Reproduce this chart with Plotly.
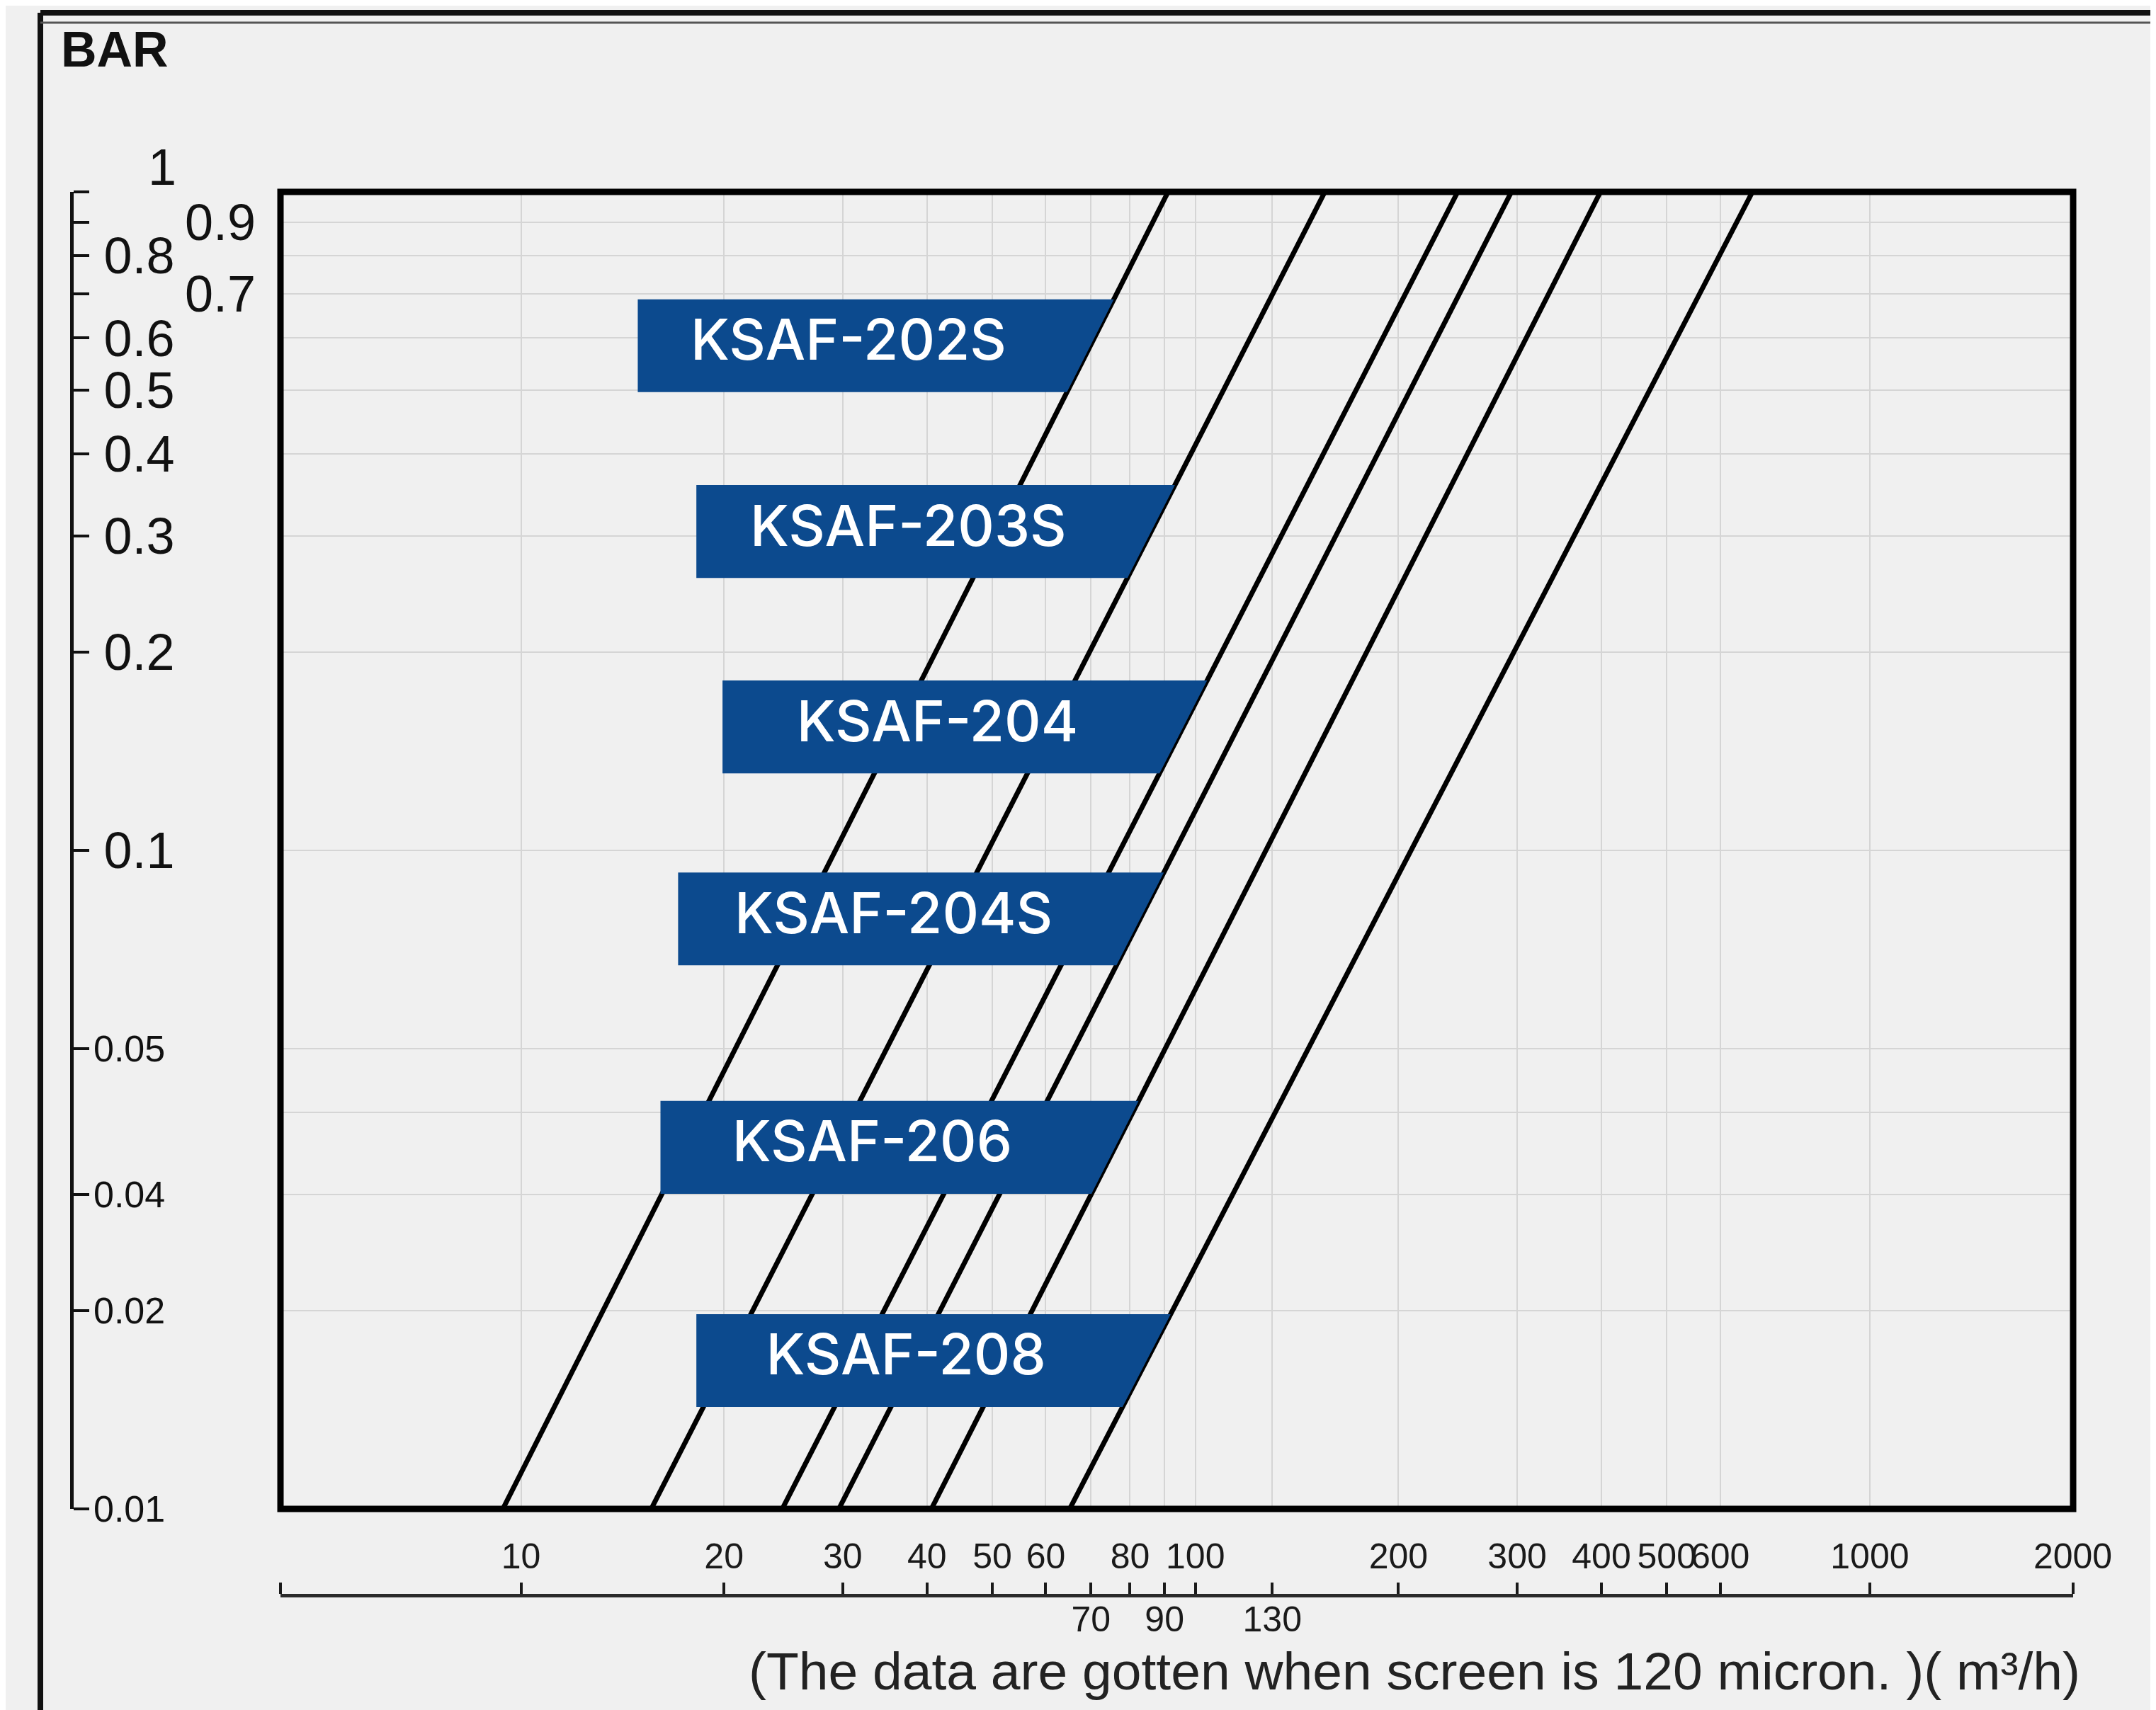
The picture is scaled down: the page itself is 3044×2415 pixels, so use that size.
import numpy as np
import plotly.graph_objects as go

# ---------------- data ----------------
MODELS = ["KSAF-202S", "KSAF-203S", "KSAF-204", "KSAF-204S", "KSAF-206", "KSAF-208"]
PRESSURE_ENDS = [0.01, 1.0]                                 # bar
FLOW_AT_LOW = [9.4, 15.6, 24.4, 29.6, 40.6, 65.1]           # m3/h at 0.01 bar
FLOW_AT_HIGH = [91.1, 155.6, 244.9, 294.2, 398.7, 669.9]    # m3/h at 1 bar

X_TICKS = [10, 20, 30, 40, 50, 60, 70, 80, 90, 100, 130, 200, 300, 400, 500, 600, 1000, 2000]
X_TICKS_BELOW = [70, 90, 130]

Y_TICK_VALUES = [1, 0.9, 0.8, 0.7, 0.6, 0.5, 0.4, 0.3, 0.2, 0.1, 0.05, 0.03, 0.02, 0.01]
Y_TICK_TEXT = ["1", "0.9", "0.8", "0.7", "0.6", "0.5", "0.4", "0.3", "0.2", "0.1", "0.05", "0.04", "0.02", "0.01"]
Y_TOP_LABEL = ["1"]
Y_BIG_LABELS = ["0.8", "0.6", "0.5", "0.4", "0.3", "0.2", "0.1"]
Y_OFFSET_LABELS = ["0.9", "0.7"]
Y_SMALL_LABELS = ["0.05", "0.04", "0.02", "0.01"]
Y_GRID = [0.9, 0.8, 0.7, 0.6, 0.5, 0.4, 0.3, 0.2, 0.1, 0.05, 0.04, 0.03, 0.02]

# ---------------- layout geometry ----------------
W, H = 3044, 2415
PLOT_L, PLOT_R, PLOT_T, PLOT_B = 388, 2919, 263, 2123
XRANGE = [0.6434, 3.3015]
YRANGE = [-2, 0]
XAXIS_LINE_Y = 2245
YAXIS_LINE_X = 93
LABEL_PLACEMENT = {
    "left": [14.9, 18.2, 19.9, 17.1, 16.1, 18.2],             # box left edge (m3/h)
    "center": [0.584, 0.305, 0.154, 0.0787, 0.0354, 0.0168],  # box vertical centre (bar)
    "half_decades": 0.0705,
    "text_shift": -0.023,
}
BG = "#f0f0f0"
BOX_BLUE = "#0c4a8e"
GRID = "#d5d5d5"
TICK_FONT = "Liberation Sans, Arial, sans-serif"

xdom = [PLOT_L / W, PLOT_R / W]
ydom = [1 - PLOT_B / H, 1 - PLOT_T / H]

fig = go.Figure()

# flow curves
for i, m in enumerate(MODELS):
    fig.add_trace(go.Scatter(
        x=[FLOW_AT_LOW[i], FLOW_AT_HIGH[i]], y=PRESSURE_ENDS, mode="lines",
        line=dict(color="black", width=7), name=m, showlegend=False,
        xaxis="x", yaxis="y", hoverinfo="skip"))

def flow_at(i, p):
    lq0, lq1 = np.log10(FLOW_AT_LOW[i]), np.log10(FLOW_AT_HIGH[i])
    lp0, lp1 = np.log10(PRESSURE_ENDS[0]), np.log10(PRESSURE_ENDS[1])
    return 10 ** (lq0 + (np.log10(p) - lp0) / (lp1 - lp0) * (lq1 - lq0))

# label boxes attached to each curve
hd = LABEL_PLACEMENT["half_decades"]
tx, ty = [], []
for i, m in enumerate(MODELS):
    c = LABEL_PLACEMENT["center"][i]
    left = LABEL_PLACEMENT["left"][i]
    top = 10 ** (np.log10(c) + hd)
    bot = 10 ** (np.log10(c) - hd)
    xs = [left, flow_at(i, top), flow_at(i, bot), left, left]
    ys = [top, top, bot, bot, top]
    fig.add_trace(go.Scatter(
        x=xs, y=ys, mode="lines", fill="toself", fillcolor=BOX_BLUE,
        line=dict(width=0, color=BOX_BLUE), showlegend=False,
        xaxis="x", yaxis="y2", hoverinfo="skip"))
    tx.append(10 ** ((np.log10(left) + np.log10(flow_at(i, c))) / 2 + LABEL_PLACEMENT["text_shift"]))
    ty.append(c)

fig.add_trace(go.Scatter(
    x=tx, y=ty, mode="text", text=MODELS, textposition="middle center",
    textfont=dict(family="Inter, Roboto, sans-serif", size=80, color="white", weight=500),
    showlegend=False, xaxis="x", yaxis="y3", hoverinfo="skip"))

# invisible anchor traces so the extra axes are built
fig.add_trace(go.Scatter(x=[10], y=[0.01], mode="markers", marker=dict(size=1, opacity=0),
                         xaxis="x2", yaxis="y", showlegend=False, hoverinfo="skip"))
fig.add_trace(go.Scatter(x=[10], y=[0.01], mode="markers", marker=dict(size=1, opacity=0),
                         xaxis="x", yaxis="y4", showlegend=False, hoverinfo="skip"))

def pick(labels):
    vals = [v for v, t in zip(Y_TICK_VALUES, Y_TICK_TEXT) if t in labels]
    txt = [t for t in Y_TICK_TEXT if t in labels]
    return vals, txt

x_text = [("" if v in X_TICKS_BELOW else str(v)) for v in X_TICKS]
big_text = [(t if t in Y_BIG_LABELS else "") for t in Y_TICK_TEXT]
small_vals, small_text = pick(Y_SMALL_LABELS)
top_vals, top_text = pick(Y_TOP_LABEL)
offset_map = dict(zip(*pick(Y_OFFSET_LABELS)))
grid_text = [offset_map.get(v, "") for v in Y_GRID]

common_x = dict(type="log", range=XRANGE, domain=xdom, anchor="free",
                position=1 - XAXIS_LINE_Y / H, zeroline=False, automargin=False, tickangle=0)
common_y = dict(type="log", range=YRANGE, domain=ydom, anchor="free", zeroline=False,
                automargin=False, side="right")

fig.update_layout(
    template="none",
    width=W, height=H, margin=dict(l=0, r=0, t=0, b=0, pad=0, autoexpand=False),
    paper_bgcolor=BG, plot_bgcolor=BG, showlegend=False,
    xaxis=dict(**common_x, side="top", showline=True, linecolor="#2a2a2a", linewidth=5,
               ticks="outside", ticklen=16, tickwidth=4, tickcolor="#1a1a1a",
               tickvals=[10 ** XRANGE[0]] + X_TICKS, ticktext=[""] + x_text,
               tickfont=dict(family=TICK_FONT, size=50, color="#1a1a1a"),
               showgrid=True, gridcolor=GRID, gridwidth=2),
    xaxis2=dict(**common_x, overlaying="x", side="bottom", showline=False, ticks="",
                tickvals=X_TICKS_BELOW, ticktext=[str(v) for v in X_TICKS_BELOW],
                tickfont=dict(family=TICK_FONT, size=50, color="#1a1a1a"),
                showgrid=False),
    yaxis=dict(**common_y, position=YAXIS_LINE_X / W, showline=True,
               linecolor="#111", linewidth=5, ticks="outside", ticklen=22, tickwidth=4,
               tickcolor="#111", tickvals=Y_TICK_VALUES, ticktext=big_text,
               ticklabelstandoff=6,
               tickfont=dict(family=TICK_FONT, size=72, color="#111"), showgrid=False),
    yaxis2=dict(**common_y, overlaying="y", position=YAXIS_LINE_X / W,
                showline=False, ticks="", tickvals=small_vals, ticktext=small_text,
                ticklabelstandoff=30,
                tickfont=dict(family=TICK_FONT, size=52, color="#111"), showgrid=False),
    yaxis3=dict(**common_y, overlaying="y", position=252 / W,
                showline=False, ticks="", tickvals=Y_GRID, ticktext=grid_text,
                tickfont=dict(family=TICK_FONT, size=72, color="#111"),
                showgrid=True, gridcolor=GRID, gridwidth=2),
    yaxis4=dict(**common_y, overlaying="y", position=200 / W,
                showline=False, ticks="", tickvals=top_vals, ticktext=top_text,
                ticklabelshift=-35,
                tickfont=dict(family=TICK_FONT, size=72, color="#111"), showgrid=False),
)

shapes = [
    # plot frame
    dict(type="rect", xref="x domain", yref="y domain", x0=0, x1=1, y0=0, y1=1,
         line=dict(color="black", width=9), layer="above"),
    # outer border
    dict(type="line", xref="paper", yref="paper", x0=49 / W, x1=49 / W, y0=-0.01, y1=1 - 10 / H,
         line=dict(color="#111", width=8)),
    dict(type="line", xref="paper", yref="paper", x0=49 / W, x1=3032 / W, y0=1 - 10 / H, y1=1 - 10 / H,
         line=dict(color="#111", width=8)),
    dict(type="line", xref="paper", yref="paper", x0=3032 / W, x1=3032 / W, y0=-0.01, y1=1 - 10 / H,
         line=dict(color="#111", width=8)),
    dict(type="line", xref="paper", yref="paper", x0=49 / W, x1=3032 / W, y0=1 - 24 / H, y1=1 - 24 / H,
         line=dict(color="#555", width=3)),
]
fig.update_layout(shapes=shapes)

fig.add_annotation(text="<b>BAR</b>", xref="paper", yref="paper", x=76 / W, y=1 - 62 / H,
                   xanchor="left", yanchor="middle", showarrow=False,
                   font=dict(family=TICK_FONT, size=70, color="#111"))
fig.add_annotation(text="(The data are gotten when screen is 120 micron. )( m³/h)",
                   xref="paper", yref="paper", x=2931 / W, y=1 - 2352 / H,
                   xanchor="right", yanchor="middle", showarrow=False,
                   font=dict(family=TICK_FONT, size=75, color="#222"))

fig.write_html("out.html")
